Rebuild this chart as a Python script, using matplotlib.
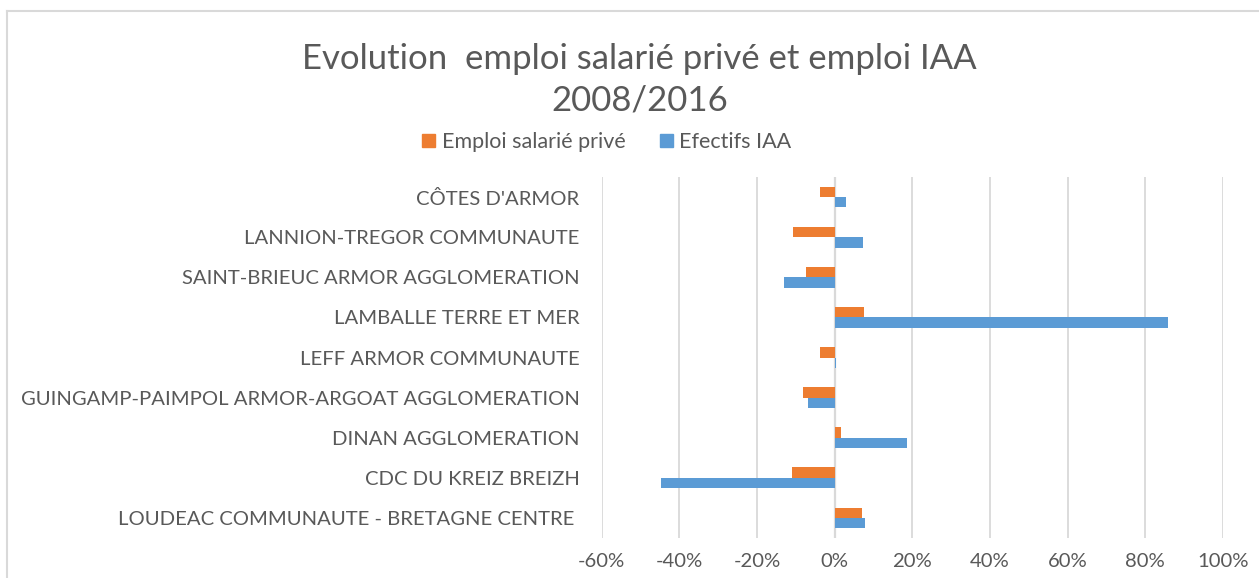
# Evolution emploi salarié privé / emploi IAA, Côtes d'Armor 2008-2016
import matplotlib.pyplot as plt
from matplotlib.lines import Line2D
from matplotlib.patches import Patch
from matplotlib.ticker import FuncFormatter
import numpy as np

# Territoires (de haut en bas)
territoires = [
    "CÔTES D'ARMOR",
    "LANNION-TREGOR COMMUNAUTE",
    "SAINT-BRIEUC ARMOR AGGLOMERATION",
    "LAMBALLE TERRE ET MER",
    "LEFF ARMOR COMMUNAUTE",
    "GUINGAMP-PAIMPOL ARMOR-ARGOAT AGGLOMERATION",
    "DINAN AGGLOMERATION",
    "CDC DU KREIZ BREIZH",
    "LOUDEAC COMMUNAUTE - BRETAGNE CENTRE ",
]
# Evolution en %
emploi_prive = [-3.9, -10.8, -7.3, 7.5, -3.8, -8.1, 1.5, -10.9, 7.0]
effectifs_iaa = [3.0, 7.2, -13.0, 85.9, 0.3, -6.8, 18.6, -44.8, 7.8]
xticks = [-60, -40, -20, 0, 20, 40, 60, 80, 100]

orange = '#ED7D31'
bleu = '#5B9BD5'
gris = '#595959'

plt.rcParams['font.family'] = ['Lato', 'DejaVu Sans']

fig = plt.figure(figsize=(12.59, 5.78), dpi=100)
ax = fig.add_axes([0.478, 0.069, 0.4934, 0.6248])

y = np.arange(len(territoires))
h = 0.26
ax.barh(y - h / 2, emploi_prive, height=h, color=orange, zorder=3)
ax.barh(y + h / 2, effectifs_iaa, height=h, color=bleu, zorder=3)

ax.set_ylim(len(territoires) - 0.5, -0.5)
ax.set_xlim(-60, 100)
ax.set_xticks(xticks)
ax.xaxis.set_major_formatter(FuncFormatter(lambda v, p: f'{v:.0f}%'))
ax.set_yticks(y)
ax.set_yticklabels(territoires)
ax.tick_params(axis='y', length=0, pad=16, labelsize=14.6, labelcolor=gris)
ax.tick_params(axis='x', length=0, pad=11, labelsize=14.6, labelcolor=gris)

ax.grid(axis='x', color='#D9D9D9', linewidth=1.3, zorder=0)
ax.axvline(0, color='#D9D9D9', linewidth=1.6, zorder=2)
for s in ax.spines.values():
    s.set_visible(False)

fig.text(0.508, 0.898, 'Evolution  emploi salarié privé et emploi IAA',
         ha='center', va='center', fontsize=25, color=gris)
fig.text(0.508, 0.826, '2008/2016', ha='center', va='center',
         fontsize=25, color=gris)

handles = [Patch(color=orange), Patch(color=bleu)]
fig.legend(handles, ['Emploi salarié privé', 'Efectifs IAA'],
           loc='center', bbox_to_anchor=(0.482, 0.754), ncol=2,
           frameon=False, fontsize=15.5, labelcolor=gris,
           handlelength=0.6, handleheight=0.6, handletextpad=0.3,
           columnspacing=1.6)

# cadre du graphique
fig.add_artist(Line2D([7 / 1259, 7 / 1259], [0, 1 - 11 / 578],
                      color='#D9D9D9', linewidth=1.5))
fig.add_artist(Line2D([7 / 1259, 1], [1 - 11 / 578, 1 - 11 / 578],
                      color='#D9D9D9', linewidth=1.5))

fig.savefig('out.png', dpi=100)
